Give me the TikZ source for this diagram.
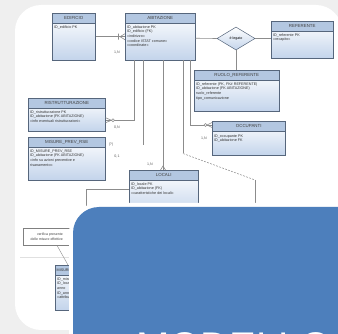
\documentclass[tikz,border=0pt]{standalone}
\usepackage{fontspec}
\setmainfont{Liberation Sans}
\usetikzlibrary{shapes.geometric,calc}
\definecolor{bg}{HTML}{EFEFEF}
\definecolor{blu}{HTML}{4D7FBC}
\definecolor{hdr}{HTML}{B3C7E1}
\definecolor{bodyb}{HTML}{C3D4EB}
\definecolor{edge}{HTML}{56667C}
\definecolor{lin}{HTML}{8C8C8C}
\tikzset{
  erbody/.style={draw=edge, line width=0.5pt, top color=white, bottom color=bodyb, anchor=north west, inner sep=0pt},
  erhead/.style={draw=edge, line width=0.5pt, fill=hdr, anchor=north west, inner sep=0pt, minimum height=10pt, font=\fontsize{4.4}{5}\selectfont, text=black!75},
  attrs/.style={anchor=north west, align=left, inner sep=0pt, font=\fontsize{3.7}{4.6}\selectfont, text=black!80},
  conn/.style={draw=lin, line width=0.6pt},
  card/.style={font=\fontsize{3.6}{4}\selectfont, inner sep=0pt, text=black!65},
}
\begin{document}
\begin{tikzpicture}[x=1pt,y=-1pt]
\useasboundingbox (0,0) rectangle (338,334);
\fill[bg] (0,0) rectangle (338,334);
\fill[white, rounded corners=26pt] (15,5) rectangle (342,330);

% EDIFICIO
\node[erbody, minimum width=43pt, minimum height=47pt] (edificio) at (52,13) {};
\node[erhead, minimum width=43pt] (edificioH) at (edificio.north west) {EDIFICIO};
\node[attrs] (edificioT) at ($(edificioH.south west)+(2,2)$) {ID\_edificio PK};

% ABITAZIONE
\node[erbody, minimum width=70pt, minimum height=47pt] (abit) at (125,13) {};
\node[erhead, minimum width=70pt] (abitH) at (abit.north west) {ABITAZIONE};
\node[attrs] (abitT) at ($(abitH.south west)+(2,2)$) {ID\_abitazione PK\\ID\_edificio (FK)\\<<indirizzo>>\\<<codice ISTAT comune>>\\<<coordinate>>};

% REFERENTE
\node[erbody, minimum width=62pt, minimum height=37pt] (referente) at (271,21) {};
\node[erhead, minimum width=62pt] (referenteH) at (referente.north west) {REFERENTE};
\node[attrs] (referenteT) at ($(referenteH.south west)+(2,2)$) {ID\_referente PK\\<<recapito>>};

% diamond
\node[diamond, draw=edge, line width=0.5pt, top color=white, bottom color=bodyb, minimum width=38pt, minimum height=23pt, inner sep=0pt, font=\fontsize{3.6}{4}\selectfont] (lega) at (236,38.5) {è legato};

% RUOLO_REFERENTE
\node[erbody, minimum width=85pt, minimum height=41pt] (ruolo) at (194,70) {};
\node[erhead, minimum width=85pt] (ruoloH) at (ruolo.north west) {RUOLO\_REFERENTE};
\node[attrs] (ruoloT) at ($(ruoloH.south west)+(2,2)$) {ID\_referente (PK, FK\# REFERENTE)\\ID\_abitazione (FK ABITAZIONE)\\ruolo\_referente\\tipo\_comunicazione};

% RISTRUTTURAZIONE
\node[erbody, minimum width=77pt, minimum height=33pt] (rist) at (28,98) {};
\node[erhead, minimum width=77pt] (ristH) at (rist.north west) {RISTRUTTURAZIONE};
\node[attrs] (ristT) at ($(ristH.south west)+(2,2)$) {ID\_ristrutturazione PK\\ID\_abitazione (FK ABITAZIONE)\\<<info eventuali ristrutturazioni>>};

% MISURE_PREV_RSE
\node[erbody, minimum width=77pt, minimum height=43pt] (misure) at (28,137) {};
\node[erhead, minimum width=77pt] (misureH) at (misure.north west) {MISURE\_PREV\_RSE};
\node[attrs] (misureT) at ($(misureH.south west)+(2,2)$) {ID\_MISURE\_PREV\_RSE\\ID\_abitazione (FK ABITAZIONE)\\<<info su azioni preventive e\\risanamento>>};

% OCCUPANTI
\node[erbody, minimum width=73pt, minimum height=34pt] (occupanti) at (212,121) {};
\node[erhead, minimum width=73pt] (occupantiH) at (occupanti.north west) {OCCUPANTI};
\node[attrs] (occupantiT) at ($(occupantiH.south west)+(2,3)$) {ID\_occupante PK\\ID\_abitazione FK};

% LOCALI
\node[erbody, minimum width=69pt, minimum height=45pt] (locali) at (129,170) {};
\node[erhead, minimum width=69pt] (localiH) at (locali.north west) {LOCALI};
\node[attrs] (localiT) at ($(localiH.south west)+(2,2)$) {ID\_locale PK\\ID\_abitazione (FK)\\<<caratteristiche dei locali>>};

% note and lower box
\node[draw=gray, line width=0.4pt, fill=white, minimum width=47pt, minimum height=17pt, anchor=north west, inner sep=1pt, align=right, font=\fontsize{3.5}{4.4}\selectfont, text=black!75] (nota) at (23,228) {verifica presente\\delle misure effettive};
\draw[black!12, line width=0.5pt] (20,257) -- (72,257);
\node[erbody, minimum width=25pt, minimum height=45pt] (misur2) at (55,265) {};
\node[erhead, minimum width=25pt] (misur2H) at (misur2.north west) {};
\node[attrs, anchor=west] (misur2L) at ($(misur2H.west)+(1.5,0)$) {MISURE};
\node[attrs] (misur2T) at ($(misur2H.south west)+(2,2)$) {ID\_misura\\ID\_locale\\anno\\ID\_anomalia\\<<attributi>>};
\draw[lin, line width=0.4pt] ($(nota.south west)+(34,0)$) -- ($(misur2.north west)+(13,0)$);

% connectors
\draw[conn] (edificio.east) -- (abit.west);
\draw[conn] ($(abit.west)+(-5,0)$) -- ($(abit.west)+(0,-3)$)
            ($(abit.west)+(-5,0)$) -- ($(abit.west)+(0,3)$)
            ($(abit.west)+(-6.5,-3)$) -- ($(abit.west)+(-6.5,3)$);
\node[card] (c1n) at (117,52) {1,N};

\coordinate (ab1) at ($(abit.east)+(0,1.5)$);
\draw[conn] (ab1) -- (lega.west);
\draw[conn] (lega.east) -- (lega.east -| referente.west);
\draw[conn] (lega.south) -- (lega.south |- ruolo.north);

\coordinate (t1) at ($(abit.south west)+(9,0)$);
\coordinate (r1) at ($(rist.east)+(0,5.5)$);
\draw[conn] (t1) |- (r1);
\draw[conn] ($(r1)+(6,0)$) -- ($(r1)+(0,-2.5)$) ($(r1)+(6,0)$) -- ($(r1)+(0,2.5)$);
\draw[conn, fill=white, line width=0.4pt] ($(r1)+(7.5,0)$) circle (1.5pt);
\node[card] (c2n) at (117,127) {0,N};

\coordinate (t2) at ($(abit.south west)+(18,0)$);
\coordinate (m1) at ($(abit.south west)+(18,85)$);
\draw[conn] (t2) -- (m1);
\node[card] (c3n) at (111,145) {(?)};
\node[card] (c4n) at (117,156) {0,1};

\coordinate (t3) at ($(abit.south west)+(38,0)$);
\draw[conn] (t3) -- (t3 |- locali.north);
\draw[conn] ($(t3 |- locali.north)+(-2.5,0)$) -- ($(t3 |- locali.north)+(0,-4)$) -- ($(t3 |- locali.north)+(2.5,0)$);
\node[card] (c5n) at (150,164) {1,N};

\coordinate (t4) at ($(abit.south west)+(58,0)$);
\coordinate (d1) at ($(abit.south west)+(58,93)$);
\coordinate (d2) at (255,180);
\coordinate (d3) at (255,210);
\draw[conn] (t4) -- (d1);
\draw[conn, dashed, dash pattern=on 2pt off 1.2pt, line width=0.5pt] (d1) -- (d2);
\draw[conn, line width=0.5pt] (d2) -- (d3);

\coordinate (t5) at ($(abit.south west)+(65,0)$);
\coordinate (o1) at ($(occupanti.north west)+(0,4)$);
\draw[conn] (t5) |- (o1);
\draw[conn] ($(o1)+(-5,0)$) -- ($(o1)+(0,-2.5)$) ($(o1)+(-5,0)$) -- ($(o1)+(0,2.5)$);
\draw[conn, fill=white, line width=0.4pt] ($(o1)+(-6.5,0)$) circle (1.5pt);
\node[card] (c6n) at (204,138) {1,N};

\coordinate (l1) at ($(locali.north west)+(0,19)$);
\coordinate (l2) at (86,215);
\draw[conn] (l1) -| (l2);

% overlay
\fill[white, rounded corners=30pt] (69,203) rectangle (400,400);
\fill[blu, rounded corners=26pt] (73,207) rectangle (400,400);
\node[anchor=base west, text=white, inner sep=0pt, font=\fontsize{40}{40}\selectfont] (title) at (136,360) {MODELLO};
\end{tikzpicture}
\end{document}
